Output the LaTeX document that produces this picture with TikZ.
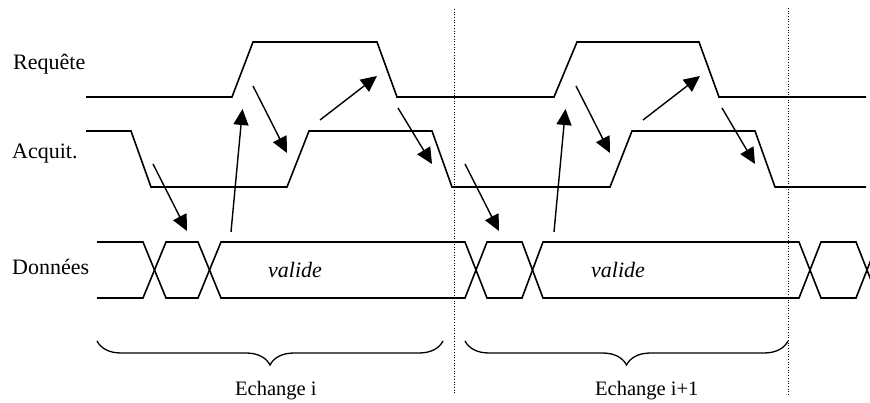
\documentclass[tikz,border=0pt]{standalone}
\usepackage{fontspec}
\setmainfont{Liberation Serif}
\usetikzlibrary{arrows.meta,decorations.pathreplacing}
\begin{document}
\begin{tikzpicture}[x=1pt,y=-1pt,
  signal/.style={line width=1.6pt,line join=miter},
  handshake/.style={line width=1.4pt,-{Triangle[length=16pt,width=15pt]}},
  boundary/.style={line width=0.7pt,dotted},
  exchbrace/.style={line width=1.3pt,decorate,decoration={brace,mirror,amplitude=24pt}},
  siglabel/.style={anchor=base west,inner sep=0pt,font=\fontsize{22}{26}\selectfont},
  datalabel/.style={anchor=base west,inner sep=0pt,font=\fontsize{22}{26}\selectfont\itshape},
  exchlabel/.style={anchor=base west,inner sep=0pt,font=\fontsize{20.5}{24}\selectfont}]
\useasboundingbox (0,0) rectangle (870,403);
\clip (0,0) rectangle (870,403);

% signal names
\node[siglabel] (req) at (13,70) {Requête};
\node[siglabel] (ack) at (12,159) {Acquit.};
\node[siglabel] (dat) at (12,275) {Données};

% request line
\draw[signal] (86,97) -- (232,97) -- (253,42) -- (377,42) -- (397,97)
  -- (554,97) -- (577,42) -- (699,42) -- (719,97) -- (866,97);

% acknowledge line
\draw[signal] (86,131) -- (131,131) -- (151,187) -- (287,187) -- (309,131)
  -- (432,131) -- (452,187) -- (610,187) -- (632,131) -- (755,131)
  -- (775,187) -- (866,187);

% data bus
\draw[signal] (97,242) -- (143,242) -- (166,298) -- (198,298) -- (221,242)
  -- (465,242) -- (487,298) -- (522,298) -- (543,242) -- (799,242)
  -- (821,298) -- (856,298) -- (878,242);
\draw[signal] (97,298) -- (143,298) -- (166,242) -- (198,242) -- (221,298)
  -- (465,298) -- (487,242) -- (522,242) -- (543,298) -- (799,298)
  -- (821,242) -- (856,242) -- (878,298);
\node[datalabel] (v1) at (268,278) {valide};
\node[datalabel] (v2) at (591,278) {valide};

% exchange boundaries
\coordinate (b1top) at (454,9);  \coordinate (b1bot) at (454,394);
\coordinate (b2top) at (788,8);  \coordinate (b2bot) at (788,395);
\draw[boundary] (b1top) -- (b1bot);
\draw[boundary] (b2top) -- (b2bot);

% handshake arrows, exchange i
\coordinate (a1s) at (153,164); \coordinate (a1e) at (187,231);
\coordinate (a2s) at (231,232); \coordinate (a2e) at (242.5,109);
\coordinate (a3s) at (253,86);  \coordinate (a3e) at (287,153);
\coordinate (a4s) at (320,120); \coordinate (a4e) at (377,76);
\coordinate (a5s) at (398,108); \coordinate (a5e) at (432,164);
\draw[handshake] (a1s) -- (a1e);
\draw[handshake] (a2s) -- (a2e);
\draw[handshake] (a3s) -- (a3e);
\draw[handshake] (a4s) -- (a4e);
\draw[handshake] (a5s) -- (a5e);

% handshake arrows, exchange i+1
\coordinate (c1s) at (465,164); \coordinate (c1e) at (499,231);
\coordinate (c2s) at (554,232); \coordinate (c2e) at (565.5,109);
\coordinate (c3s) at (576,86);  \coordinate (c3e) at (610,153);
\coordinate (c4s) at (643,120); \coordinate (c4e) at (700,76);
\coordinate (c5s) at (722,108); \coordinate (c5e) at (755,164);
\draw[handshake] (c1s) -- (c1e);
\draw[handshake] (c2s) -- (c2e);
\draw[handshake] (c3s) -- (c3e);
\draw[handshake] (c4s) -- (c4e);
\draw[handshake] (c5s) -- (c5e);

% exchange braces
\coordinate (e1l) at (97,341);  \coordinate (e1r) at (443,341);
\coordinate (e2l) at (465,341); \coordinate (e2r) at (788,341);
\draw[exchbrace] (e1l) -- (e1r);
\draw[exchbrace] (e2l) -- (e2r);
\node[exchlabel] (x1) at (235,395) {Echange i};
\node[exchlabel] (x2) at (595,395) {Echange i+1};
\end{tikzpicture}
\end{document}
